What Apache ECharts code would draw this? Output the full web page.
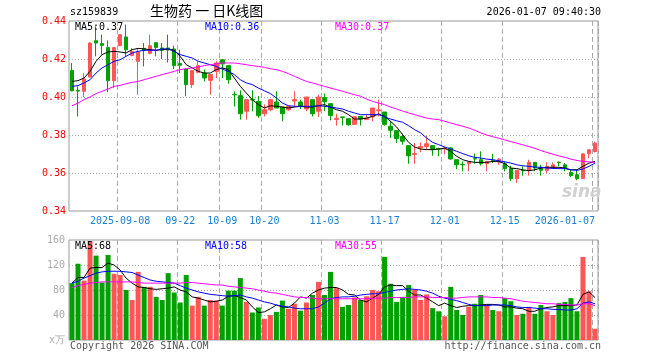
<!DOCTYPE html>
<html><head><meta charset="utf-8">
<script src="https://cdn.jsdelivr.net/npm/echarts@6/dist/echarts.min.js"></script>
<style>html,body{margin:0;padding:0;background:#fff}#c{width:660px;height:360px}</style>
</head><body><div id="c"></div>
<script>
const dates = ['2025-08-27','2025-08-28','2025-08-29','2025-09-01','2025-09-02','2025-09-03','2025-09-04','2025-09-05','2025-09-08','2025-09-09',
'2025-09-10','2025-09-11','2025-09-12','2025-09-15','2025-09-16','2025-09-17','2025-09-18','2025-09-19','2025-09-22','2025-09-23',
'2025-09-24','2025-09-25','2025-09-26','2025-09-29','2025-09-30','2025-10-09','2025-10-10','2025-10-13','2025-10-14','2025-10-15',
'2025-10-16','2025-10-17','2025-10-20','2025-10-21','2025-10-22','2025-10-23','2025-10-24','2025-10-27','2025-10-28','2025-10-29',
'2025-10-30','2025-10-31','2025-11-03','2025-11-04','2025-11-05','2025-11-06','2025-11-07','2025-11-10','2025-11-11','2025-11-12',
'2025-11-13','2025-11-14','2025-11-17','2025-11-18','2025-11-19','2025-11-20','2025-11-21','2025-11-24','2025-11-25','2025-11-26',
'2025-11-27','2025-11-28','2025-12-01','2025-12-02','2025-12-03','2025-12-04','2025-12-05','2025-12-08','2025-12-09','2025-12-10',
'2025-12-11','2025-12-12','2025-12-15','2025-12-16','2025-12-17','2025-12-18','2025-12-19','2025-12-22','2025-12-23','2025-12-24',
'2025-12-25','2025-12-26','2025-12-29','2025-12-30','2025-12-31','2026-01-05','2026-01-06','2026-01-07'];

const opens = [.4139,.4035,.403,.4105,.4296,.4281,.426,.4086,.427,.4316,
.4219,.4188,.4256,.423,.4286,.4258,.4258,.4253,.4177,.4147,
.4065,.413,.4126,.4088,.4135,.4196,.4165,.4014,.4007,.3925,
.3988,.3977,.3912,.3933,.3974,.3947,.3933,.3979,.3974,.3937,
.3986,.3925,.3998,.3965,.3882,.3895,.3886,.3856,.3898,.3881,
.3896,.3928,.3921,.3846,.3823,.3793,.3744,.3698,.3732,.374,
.3744,.3728,.3728,.3732,.367,.3646,.3649,.3675,.367,.3649,
.3666,.3657,.3649,.3623,.357,.3613,.3614,.3656,.363,.3614,
.3626,.3657,.3643,.3603,.3591,.357,.3701,.3713];
const closes = [.4033,.4031,.4095,.4284,.4284,.4272,.4086,.426,.4328,.4249,
.4239,.4237,.4244,.427,.4261,.4246,.4247,.4165,.4167,.4065,
.4139,.4165,.41,.4118,.4179,.4174,.4091,.4012,.3912,.3986,
.3984,.3902,.3933,.3986,.3942,.3912,.3951,.3986,.3951,.40,
.3912,.40,.3975,.3902,.3888,.3893,.3854,.3896,.3884,.3888,
.3942,.3932,.3856,.3825,.3782,.3767,.3691,.3702,.374,.3754,
.3723,.3726,.3732,.3674,.3644,.3644,.3661,.3674,.3649,.3661,
.3664,.3673,.3623,.357,.3614,.3611,.3656,.3626,.3614,.3635,
.3643,.3655,.3626,.3586,.357,.3701,.3722,.3757];
const lows = [.403,.3898,.40,.4105,.4214,.4223,.4025,.4047,.427,.4214,
.4214,.4012,.4161,.4225,.4214,.42,.4182,.4147,.4126,.4004,
.4047,.4125,.4082,.4012,.41,.41,.407,.395,.3881,.3881,
.3925,.389,.3898,.3925,.3942,.3872,.3928,.3947,.3937,.3925,
.3898,.3895,.3925,.3877,.3849,.385,.3849,.3856,.385,.3881,
.3872,.3898,.3849,.3784,.3758,.3749,.3649,.3649,.3709,.3723,
.3691,.3688,.3698,.367,.3621,.3609,.3609,.3649,.3639,.3609,
.3652,.3643,.3609,.3557,.3548,.3586,.3586,.3609,.3586,.36,
.3626,.3635,.3609,.3579,.3562,.357,.3678,.3708];
const highs = [.4179,.4056,.4126,.4288,.4372,.4328,.4298,.426,.4328,.4381,
.4258,.4258,.4284,.4328,.4286,.4284,.4328,.427,.4249,.4147,
.4139,.4188,.4144,.4118,.4188,.4196,.4165,.403,.4035,.3986,
.4035,.4005,.3961,.3986,.403,.3947,.3956,.403,.3986,.40,
.3986,.4012,.4018,.3965,.3912,.3895,.3886,.3896,.3898,.3909,
.3942,.3986,.3921,.3872,.3823,.3807,.3744,.3758,.3761,.3796,
.3744,.3733,.3735,.3735,.367,.3661,.3661,.3702,.3714,.3664,
.3701,.3678,.3661,.3638,.3614,.3635,.367,.3656,.3643,.3656,
.3656,.366,.3652,.3617,.3617,.3701,.3725,.3765];

const ma5 = [.4082,.4086,.41,.4135,.4188,.4223,.4237,.424,.4237,.4232,
.4249,.4256,.4253,.4249,.4246,.4249,.4253,.4246,.4214,.417,
.4153,.4135,.4126,.4126,.4144,.4153,.4144,.41,.4056,.4021,
.3986,.396,.3942,.3954,.3951,.3947,.3942,.3947,.3951,.3947,
.3947,.3954,.396,.3947,.3933,.3925,.3907,.3884,.3884,.3889,
.3898,.3911,.3898,.3872,.3842,.3802,.3761,.3737,.3726,.3723,
.3723,.3726,.373,.3714,.3688,.367,.3661,.3656,.3656,.3656,
.3661,.3661,.3649,.3626,.3623,.3617,.3612,.3617,.3626,.363,
.363,.363,.3626,.3617,.3617,.3635,.3652,.3661];
const ma10 = [.4056,.406,.4074,.4091,.4126,.4153,.417,.4188,.4196,.4214,
.4232,.424,.4246,.4246,.4246,.4253,.4253,.424,.4223,.4214,
.4205,.4188,.4179,.417,.4161,.4147,.4135,.4118,.4091,.4074,
.4065,.4047,.4033,.4018,.3995,.3968,.3954,.3951,.3951,.3951,
.3951,.3954,.3951,.3947,.3942,.3937,.3925,.3916,.3907,.3907,
.3907,.3907,.3895,.3884,.3875,.3867,.3849,.3828,.3811,.3784,
.3761,.3749,.3737,.3726,.3714,.3702,.3691,.3682,.3679,.3673,
.367,.3664,.3659,.3652,.3643,.3638,.3635,.3631,.363,.3626,
.3624,.3623,.3623,.3617,.3614,.3621,.3635,.3652];
const ma30 = [.3954,.3968,.3986,.40,.4018,.403,.4042,.4056,.4061,.407,
.4077,.4082,.4091,.41,.4109,.4118,.4126,.4135,.4144,.4149,
.4153,.4158,.4165,.417,.4175,.4179,.4179,.4179,.4175,.417,
.4165,.4161,.4156,.4149,.4144,.4135,.4123,.4109,.4095,.4082,
.4074,.4065,.4056,.4047,.4039,.403,.4021,.4012,.4004,.3989,
.3977,.3968,.396,.3947,.3937,.3926,.3916,.3907,.3898,.3889,
.3884,.3881,.3872,.3863,.3854,.3846,.3837,.3825,.3811,.38,
.3791,.3783,.3774,.3765,.3757,.3748,.3739,.373,.3718,.3708,
.3699,.369,.3682,.3673,.3666,.3661,.3659,.3656];

const volumes = [91,122,95,158,135,92,136,106,104,80,
64,109,85,85,69,64,107,76,60,104,
55,69,55,64,63,55,79,79,99,61,
44,52,34,40,45,63,50,58,47,60,
72,93,72,109,83,53,56,68,64,70,
80,78,133,90,61,69,88,81,64,73,
51,46,38,85,48,40,53,58,72,56,
48,46,67,62,40,42,53,42,56,46,
40,59,61,67,46,133,78,18];
const vma5 = [91,100,100,115,116,116,123,120,112,99,
91,85,84,82,81,82,83,85,80,77,
69,67,64,61,62,64,70,71,68,64,
53,44,45,50,56,53,52,59,69,67,
75,80,83,84,84,80,73,72,64,61,
67,73,85,88,87,87,78,72,72,67,
61,55,59,55,52,54,55,55,56,57,
57,56,53,53,51,50,46,46,50,52,
53,55,55,55,56,73,77,68];
const vma10 = [91,94,99,103,107,109,110,110,110,109,
108,104,100,96,94,93,92,91,87,83,
80,77,75,73,72,71,70,71,72,69,
67,64,61,59,56,54,53,51,50,50,
50,53,59,66,68,69,69,70,72,73,
74,74,76,78,80,81,82,81,80,78,
75,70,67,65,63,60,57,55,55,55,
56,56,56,55,53,52,52,51,50,50,
49,49,48,48,50,59,61,58];
const vma30 = [84,87,89,91,92,93,93,93,93,93,
93,92,91,91,91,91,91,91,91,92,
92,91,90,89,88,88,86,85,84,83,
82,80,78,76,75,73,71,69,68,68,
67,66,66,66,66,66,66,66,66,66,
67,67,67,68,68,68,68,69,69,69,
68,68,68,67,67,68,69,69,69,69,
68,68,67,66,64,62,61,60,59,58,
58,57,57,56,56,58,58,55];

const tickDates = ['2025-09-08','2025-09-22','2025-10-09','2025-10-20','2025-11-03','2025-11-17','2025-12-01','2025-12-15','2026-01-07'];
const tickTexts = ['2025-09-08','09-22','10-09','10-20','11-03','11-17','12-01','12-15','2026-01-07'];
const priceTicks = [0.34,0.36,0.38,0.40,0.42,0.44];
const volTicks = [0,40,80,120,160];

const UP = '#ff5555', DOWN = '#00a000';
const MONO = '"DejaVu Sans Mono", monospace';
const isTick = (i, v) => tickDates.indexOf(v) >= 0;

const candleData = dates.map((d, i) => [opens[i], closes[i], lows[i], highs[i]]);
const volData = volumes.map((v, i) => ({value: v, itemStyle: {color: closes[i] >= opens[i] ? UP : DOWN}}));

const chart = echarts.init(document.getElementById('c'), null, {renderer: 'canvas'});
const line = (name, data, color, xi) => ({
  name, type: 'line', data, xAxisIndex: xi, yAxisIndex: xi, showSymbol: false, symbol: 'none',
  lineStyle: {width: 1, color}, itemStyle: {color}, silent: true, z: 5
});
const xAx = (gi, showLabel) => ({
  type: 'category', gridIndex: gi, data: dates, boundaryGap: true,
  axisLine: {show: false}, axisTick: {show: false},
  axisLabel: {show: showLabel, interval: isTick, formatter: v => tickTexts[tickDates.indexOf(v)],
    color: '#1a7fd4', fontSize: 10, fontFamily: MONO, margin: 5, alignMaxLabel: 'right'},
  splitLine: {show: true, interval: isTick, lineStyle: {color: '#aaaaaa', width: 1, type: [5, 3]}}
});
chart.setOption({
  animation: false,
  backgroundColor: '#ffffff',
  grid: [
    {left: 69, right: 62, top: 21, height: 190, show: true, borderColor: '#999', borderWidth: 1, backgroundColor: 'transparent'},
    {left: 69, right: 62, top: 240, height: 100, show: true, borderColor: '#999', borderWidth: 1, backgroundColor: 'transparent'}
  ],
  xAxis: [xAx(0, true), xAx(1, false)],
  yAxis: [
    {type: 'value', gridIndex: 0, min: priceTicks[0], max: priceTicks[priceTicks.length-1], interval: 0.02,
     axisLine: {show: false}, axisTick: {show: false},
     axisLabel: {color: '#ff0000', fontSize: 10, fontFamily: MONO, margin: 3, formatter: v => v.toFixed(2)},
     splitLine: {show: true, showMinLine: false, showMaxLine: false, lineStyle: {color: '#aaaaaa', type: [1, 2]}}},
    {type: 'value', gridIndex: 1, min: volTicks[0], max: volTicks[volTicks.length-1], interval: 40,
     axisLine: {show: false}, axisTick: {show: false},
     axisLabel: {color: '#aaaaaa', fontSize: 10, fontFamily: MONO, margin: 4, formatter: v => v === 0 ? 'x万' : String(v)},
     splitLine: {show: true, showMinLine: false, showMaxLine: false, lineStyle: {color: '#aaaaaa', type: [1, 2]}}}
  ],
  graphic: [
    {type: 'text', left: 70, top: 7, style: {text: 'sz159839', font: '10px ' + MONO, fill: '#000'}},
    {type: 'text', left: 150, top: 4, style: {text: '生物药 一 日K线图', font: '14px "Noto Sans CJK SC"', fill: '#000'}},
    {type: 'text', right: 59, top: 7, style: {text: '2026-01-07 09:40:30', font: '10px ' + MONO, fill: '#000'}},
    {type: 'text', left: 75, top: 22, z: 10, style: {text: 'MA5:0.37', font: '10px ' + MONO, fill: '#000'}},
    {type: 'text', left: 205, top: 22, z: 10, style: {text: 'MA10:0.36', font: '10px ' + MONO, fill: '#0000ff'}},
    {type: 'text', left: 335, top: 22, z: 10, style: {text: 'MA30:0.37', font: '10px ' + MONO, fill: '#ff00ff'}},
    {type: 'text', left: 75, top: 241, z: 10, style: {text: 'MA5:68', font: '10px ' + MONO, fill: '#000'}},
    {type: 'text', left: 205, top: 241, z: 10, style: {text: 'MA10:58', font: '10px ' + MONO, fill: '#0000ff'}},
    {type: 'text', left: 335, top: 241, z: 10, style: {text: 'MA30:55', font: '10px ' + MONO, fill: '#ff00ff'}},
    {type: 'text', left: 70, top: 341, style: {text: 'Copyright 2026 SINA.COM', font: '10px ' + MONO, fill: '#555'}},
    {type: 'text', right: 59, top: 341, style: {text: 'http://finance.sina.com.cn', font: '10px ' + MONO, fill: '#555'}},
    {type: 'text', left: 562, top: 184, z: 1, style: {text: 'sina', font: 'italic bold 17px "DejaVu Sans"', fill: '#d0d0d0'}}
  ],
  series: [
    {type: 'candlestick', xAxisIndex: 0, yAxisIndex: 0, data: candleData, barWidth: 4, silent: true,
     itemStyle: {color: UP, color0: DOWN, borderColor: UP, borderColor0: DOWN, borderWidth: 1}},
    line('MA5', ma5, '#000000', 0),
    line('MA10', ma10, '#0000ff', 0),
    line('MA30', ma30, '#ff00ff', 0),
    {type: 'bar', xAxisIndex: 1, yAxisIndex: 1, data: volData, barWidth: 5, silent: true},
    line('VMA5', vma5, '#000000', 1),
    line('VMA10', vma10, '#0000ff', 1),
    line('VMA30', vma30, '#ff00ff', 1)
  ]
});
</script></body></html>
